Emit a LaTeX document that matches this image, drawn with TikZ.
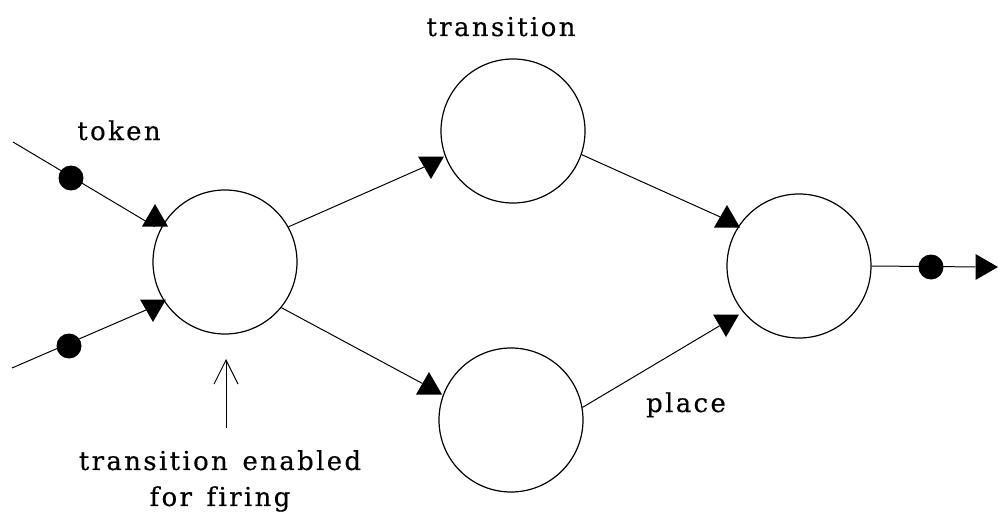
\documentclass[tikz,border=0pt]{standalone}
\usepackage{fontspec}
\setmainfont{DejaVu Serif}[LetterSpace=9,Ligatures=CommonOff,FakeBold=0.4]
\usetikzlibrary{shapes.geometric,arrows.meta}
\begin{document}
\begin{tikzpicture}[x=1pt,y=-1pt,
  pnode/.style={circle,draw,line width=1.2pt,minimum size=144pt,inner sep=0pt},
  dot/.style={circle,fill,minimum size=25pt,inner sep=0pt},
  tri/.style={regular polygon,regular polygon sides=3,fill,minimum size=30pt,inner sep=0pt},
  uptri/.style={tri},
  dntri/.style={tri,shape border rotate=180},
  conn/.style={line width=1pt},
  lbl/.style={font=\fontsize{26}{36}\selectfont,inner sep=0pt}]
\useasboundingbox (0,0) rectangle (998,516);
% places / transitions
\node[pnode] (c1) at (225,262) {};
\node[pnode] (c2) at (513,131) {};
\node[pnode] (c3) at (511,420) {};
\node[pnode] (c4) at (799,266) {};
% arrow heads
\node[uptri] (t1) at (155,219) {};
\node[dntri] (t2) at (153,307) {};
\node[dntri] (t3) at (431,164) {};
\node[uptri] (t4) at (429,387) {};
\node[uptri] (t5) at (727,220) {};
\node[dntri] (t6) at (726,322) {};
\node[tri,shape border rotate=-90] (t7) at (983,267) {};
% free ends
\coordinate (in1) at (13,142);
\coordinate (in2) at (12,368);
% connectors
\draw[conn] (in1) -- (t1.south);
\draw[conn] (in2) -- (t2);
\draw[conn] (c1.29) -- (t3);
\draw[conn] (c1.-39) -- (t4);
\draw[conn] (c2.-19) -- (t5);
\draw[conn] (c3.10) -- (t6);
\draw[conn] (c4.east) -- (t7);
% tokens
\node[dot] (d1) at (71,178) {};
\node[dot] (d2) at (69,346) {};
\node[dot] (d3) at (931,267) {};
% pointer arrow
\coordinate (ab) at (226,428);
\coordinate (at) at (226,359);
\draw[line width=1pt,-{Straight Barb[length=24pt,width=24pt,line width=1pt]}] (ab) -- (at);
% labels
\node[lbl,anchor=base] (ltoken) at (119,140) {token};
\node[lbl,anchor=base] (ltrans) at (501,36) {transition};
\node[lbl,anchor=base] (lplace) at (686,412) {place};
\node[lbl,align=center,anchor=north] (lenab) at (220,450) {transition\hspace{4pt} enabled\\for\hspace{4pt} firing};
\end{tikzpicture}
\end{document}
